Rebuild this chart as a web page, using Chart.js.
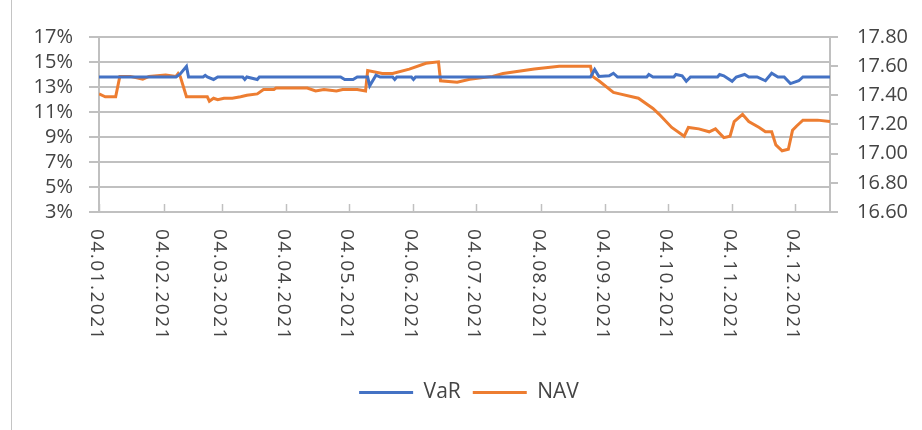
<!DOCTYPE html>
<html>
<head>
<meta charset="utf-8">
<script src="https://cdn.jsdelivr.net/npm/chart.js@4.4.1/dist/chart.umd.min.js"></script>
<style>
  body { margin: 0; background: #fff; }
  .wrap { position: relative; width: 922px; height: 430px; }
  .edge { position: absolute; left: 11px; top: 0; width: 1px; height: 430px; background: #c4c4c4; }
</style>
</head>
<body>
<div class="wrap">
  <canvas id="myChart" width="922" height="430"></canvas>
  <div class="edge"></div>
</div>
<script>
const tickLabels = ['04.01.2021', '04.02.2021', '04.03.2021', '04.04.2021', '04.05.2021', '04.06.2021',
  '04.07.2021', '04.08.2021', '04.09.2021', '04.10.2021', '04.11.2021', '04.12.2021'];
const lastDate = '21.12.2021';

const varDates = ['04.01.2021', '10.02.2021', '12.02.2021', '15.02.2021', '16.02.2021', '23.02.2021',
  '24.02.2021', '25.02.2021', '28.02.2021', '02.03.2021', '14.03.2021', '15.03.2021', '16.03.2021',
  '21.03.2021', '22.03.2021', '30.04.2021', '02.05.2021', '06.05.2021', '08.05.2021', '13.05.2021',
  '14.05.2021', '17.05.2021', '19.05.2021', '25.05.2021', '26.05.2021', '27.05.2021', '03.06.2021',
  '04.06.2021', '05.06.2021', '28.08.2021', '30.08.2021', '01.09.2021', '06.09.2021', '08.09.2021',
  '10.09.2021', '24.09.2021', '25.09.2021', '27.09.2021', '07.10.2021', '08.10.2021', '11.10.2021',
  '13.10.2021', '15.10.2021', '28.10.2021', '29.10.2021', '31.10.2021', '04.11.2021', '06.11.2021',
  '10.11.2021', '12.11.2021', '16.11.2021', '20.11.2021', '23.11.2021', '26.11.2021', '29.11.2021',
  '02.12.2021', '06.12.2021', '08.12.2021', '21.12.2021'];
const varValues = [13.8, 13.8, 14.05, 14.65, 13.8, 13.8,
  13.93, 13.8, 13.6, 13.8, 13.8, 13.6, 13.8,
  13.6, 13.8, 13.8, 13.6, 13.6, 13.8, 13.8,
  13.1, 13.95, 13.8, 13.8, 13.6, 13.8, 13.8,
  13.6, 13.8, 13.8, 14.4, 13.85, 13.9, 14.1,
  13.8, 13.8, 14.0, 13.8, 13.8, 14.0, 13.9,
  13.46, 13.8, 13.8, 14.0, 13.9, 13.46, 13.8,
  14.0, 13.8, 13.8, 13.5, 14.1, 13.8, 13.8,
  13.27, 13.5, 13.8, 13.8];

const navDates = ['04.01.2021', '07.01.2021', '12.01.2021', '14.01.2021', '19.01.2021', '25.01.2021',
  '28.01.2021', '05.02.2021', '10.02.2021', '11.02.2021', '12.02.2021', '15.02.2021', '22.02.2021',
  '25.02.2021', '26.02.2021', '28.02.2021', '02.03.2021', '05.03.2021', '09.03.2021', '13.03.2021',
  '16.03.2021', '21.03.2021', '24.03.2021', '29.03.2021', '30.03.2021', '06.04.2021', '14.04.2021',
  '18.04.2021', '22.04.2021', '28.04.2021', '01.05.2021', '08.05.2021', '12.05.2021', '13.05.2021',
  '20.05.2021', '25.05.2021', '02.06.2021', '10.06.2021', '16.06.2021', '17.06.2021', '25.06.2021',
  '01.07.2021', '12.07.2021', '17.07.2021', '01.08.2021', '13.08.2021', '28.08.2021', '29.08.2021',
  '01.09.2021', '08.09.2021', '11.09.2021', '20.09.2021', '27.09.2021', '30.09.2021', '06.10.2021',
  '12.10.2021', '14.10.2021', '19.10.2021', '24.10.2021', '27.10.2021', '29.10.2021', '31.10.2021',
  '03.11.2021', '05.11.2021', '09.11.2021', '12.11.2021', '17.11.2021', '20.11.2021', '23.11.2021',
  '25.11.2021', '28.11.2021', '01.12.2021', '03.12.2021', '05.12.2021', '08.12.2021', '15.12.2021',
  '21.12.2021'];
const navValues = [17.41, 17.39, 17.39, 17.53, 17.53, 17.51,
  17.53, 17.54, 17.53, 17.55, 17.53, 17.39, 17.39,
  17.39, 17.36, 17.38, 17.37, 17.38, 17.38, 17.39,
  17.40, 17.41, 17.44, 17.44, 17.45, 17.45, 17.45,
  17.43, 17.44, 17.43, 17.44, 17.44, 17.43, 17.57,
  17.55, 17.55, 17.58, 17.62, 17.63, 17.50, 17.49,
  17.51, 17.53, 17.55, 17.58, 17.60, 17.60, 17.53,
  17.50, 17.42, 17.41, 17.38, 17.31, 17.27, 17.18,
  17.12, 17.18, 17.17, 17.15, 17.17, 17.14, 17.11,
  17.12, 17.22, 17.27, 17.22, 17.18, 17.15, 17.15,
  17.06, 17.02, 17.03, 17.16, 17.19, 17.23, 17.23,
  17.22];

const gridColor = '#c0c0c0';
const textColor = '#444444';
const fontFamily = '"Open Sans", "Noto Sans", sans-serif';

// days since the first date, so the x axis behaves like Excel's date axis
const dayOf = (s) => {
  const [d, m, y] = s.split('.').map(Number);
  return (Date.UTC(y, m - 1, d) - Date.UTC(2021, 0, 4)) / 86400000;
};
const tickDays = tickLabels.map(dayOf);

const toPoints = (dates, values) => dates.map((d, i) => ({ x: dayOf(d), y: values[i] }));

// Excel draws the date labels turned clockwise, with small inward tick marks
const xLabels = {
  id: 'xLabels',
  afterDraw(chart) {
    const { ctx, chartArea } = chart;
    const x = chart.scales.x;
    ctx.save();
    ctx.strokeStyle = gridColor;
    ctx.lineWidth = 1.5;
    ctx.fillStyle = textColor;
    ctx.font = '19px ' + fontFamily;
    ctx.letterSpacing = '1.5px';
    tickDays.forEach((d, i) => {
      const px = Math.round(x.getPixelForValue(d)) + 0.5;
      ctx.beginPath();
      ctx.moveTo(px, chartArea.bottom);
      ctx.lineTo(px, chartArea.bottom - 8);
      ctx.stroke();
      ctx.save();
      ctx.translate(px - 3, chartArea.bottom + 17);
      ctx.rotate(Math.PI / 2);
      ctx.textAlign = 'left';
      ctx.textBaseline = 'middle';
      ctx.fillText(tickLabels[i], 0, 0);
      ctx.restore();
    });
    ctx.restore();
  }
};

const legendShift = {
  id: 'legendShift',
  afterLayout(chart) {
    chart.legend.left += 8;
    chart.legend.right += 8;
  }
};

Chart.defaults.font.family = fontFamily;
Chart.defaults.color = textColor;

const ctx = document.getElementById('myChart');

const data = {
  datasets: [
    {
      label: 'VaR',
      data: toPoints(varDates, varValues),
      borderColor: '#4472C4',
      backgroundColor: '#4472C4',
      borderWidth: 3,
      pointRadius: 0,
      yAxisID: 'y',
    },
    {
      label: 'NAV',
      data: toPoints(navDates, navValues),
      borderColor: '#ED7D31',
      backgroundColor: '#ED7D31',
      borderWidth: 3,
      pointRadius: 0,
      yAxisID: 'y2',
    },
  ],
};

const options = {
  responsive: false,
  animation: false,
  layout: { padding: { top: 37, bottom: 17, left: 0, right: 0 } },
  plugins: {
    tooltip: { enabled: false },
    legend: {
      position: 'bottom',
      labels: {
        usePointStyle: true,
        pointStyle: 'line',
        pointStyleWidth: 54,
        padding: 12,
        color: textColor,
        font: { size: 21 },
      },
    },
  },
  scales: {
    x: {
      type: 'linear',
      min: 0,
      max: dayOf(lastDate),
      afterBuildTicks: (s) => { s.ticks = tickDays.map(v => ({ value: v })); },
      afterFit: (s) => { s.height = 158; },
      ticks: { display: false },
      grid: { display: true, drawOnChartArea: false, drawTicks: false, color: gridColor },
      border: { display: true, color: gridColor, width: 2 },
    },
    y: {
      position: 'left',
      min: 3,
      max: 17,
      afterFit: (s) => { s.width = 99; },
      ticks: {
        stepSize: 2,
        autoSkip: false,
        padding: 16,
        font: { size: 20 },
        callback: (v) => v + '%',
      },
      grid: { color: gridColor, lineWidth: 2, tickLength: 10 },
      border: { display: true, color: gridColor, width: 2 },
    },
    y2: {
      position: 'right',
      min: 16.6,
      max: 17.8,
      afterFit: (s) => { s.width = 92; },
      ticks: {
        stepSize: 0.2,
        autoSkip: false,
        padding: 19,
        font: { size: 20 },
        callback: (v) => v.toFixed(2),
      },
      grid: { drawOnChartArea: false, color: gridColor, lineWidth: 2, tickLength: 8 },
      border: { display: true, color: gridColor, width: 2 },
    },
  },
};

const chart = new Chart(ctx, {
  type: 'line',
  data,
  options,
  plugins: [xLabels, legendShift],
});
</script>
</body>
</html>
